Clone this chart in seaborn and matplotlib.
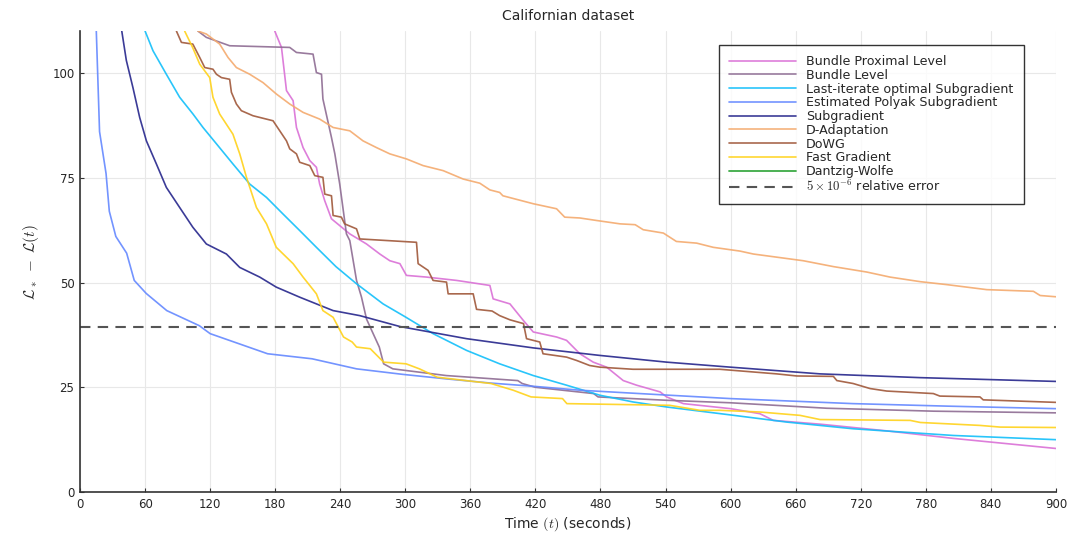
"""
Californian dataset : écart à l'optimum L* - L(t) en fonction du temps
pour plusieurs méthodes (bundle, sous-gradient, D-Adaptation, ...).
"""

import pandas as pd
import matplotlib
matplotlib.use("Agg")
import matplotlib.pyplot as plt
import seaborn as sns

# Données (temps en secondes, écart)
bpl_t = [179.6, 185.8, 190.4, 196.5, 199.6, 205.7, 211.9, 218, 221, 225.7, 231.9, 248.8, 264.2, 276.5, 285.7,
         295, 301, 319.5, 347.3, 378, 381, 396.5, 409, 418, 439.5, 448.7, 461, 473.3, 485.7, 501, 513.3, 535,
         541, 556.4, 600, 627, 639.4, 682.5, 744, 805.5, 900]
bpl_y = [110, 106.1, 95.8, 93.4, 87.0, 82.2, 79.1, 77.5, 73.5, 69.5, 65.2, 61.6, 59.2, 56.8, 55.2,
         54.5, 51.7, 51.3, 50.5, 49.3, 46.1, 44.9, 40.9, 38.2, 37.0, 36.2, 33.0, 31.0, 29.8, 26.6, 25.5, 23.9,
         22.7, 21.1, 19.9, 18.7, 17.1, 16.2, 14.6, 12.8, 10.4]

bl_t = [108.8, 116.5, 138, 193.4, 199.6, 214.9, 218, 222.7, 224, 231.9, 235, 239.5, 245.7, 248.8, 255, 259.6,
        264.2, 267.7, 276, 280, 288.5, 337.7, 403.7, 407.8, 420, 473.7, 477.8, 541, 600, 688.7, 787, 900]
bl_y = [110, 108.5, 106.5, 106.1, 104.9, 104.5, 100.1, 99.7, 93.8, 84.6, 80.7, 73.5, 61.6, 60.0, 50.5, 46.5,
        41.3, 39.3, 34.6, 30.6, 29.4, 27.8, 26.6, 25.9, 25.0, 23.5, 22.7, 21.9, 21.3, 20.0, 19.3, 18.9]

last_t = [60, 67.3, 79.6, 91.9, 104.2, 113.4, 125.8, 141, 156.5, 172, 187, 202.6, 218, 236, 255, 279.5, 300,
          325.6, 356.5, 387, 418, 448.7, 479.5, 510, 541, 600, 651.7, 713, 805.5, 900]
last_y = [110, 105.3, 99.7, 94.2, 90.2, 87.0, 83.1, 78.3, 73.5, 70.3, 66.4, 62.4, 58.4, 53.8, 49.7, 44.9, 41.8,
          37.8, 33.8, 30.6, 27.8, 25.5, 23.1, 21.5, 20.3, 18.4, 16.7, 15.1, 13.5, 12.5]

polyak_t = [15, 18, 24, 27, 33, 43, 50, 61, 80, 110, 120, 173, 214, 255, 297, 338, 379, 420, 461, 530, 600,
            713, 800, 900]
polyak_y = [110, 86, 76, 67, 61, 57, 50.5, 47.4, 43.3, 39.7, 37.8, 33.0, 31.8, 29.4, 28.1, 27.0, 26.0, 25.2,
            24.3, 23.3, 22.3, 21.1, 20.5, 19.9]

subg_t = [38.5, 42.7, 48.8, 55, 61.2, 70.4, 79.6, 91.9, 104, 116.5, 135, 147.3, 165.7, 181, 202.6, 218, 233.4,
          258, 295, 356.5, 418, 479.5, 541, 600, 682.5, 775, 900]
subg_y = [110, 103, 96.5, 89.4, 83.8, 78.3, 72.7, 67.9, 63.2, 59.2, 56.8, 53.6, 51.3, 48.9, 46.5, 44.9, 43.3,
          42.1, 39.5, 36.6, 34.4, 32.6, 31.0, 29.8, 28.2, 27.3, 26.4]

dadapt_t = [108.8, 116.5, 128.8, 136.5, 144.2, 156.5, 168.8, 181, 193.4, 205.7, 221, 233.4, 248.8, 261, 273.4,
            285.7, 301, 316.4, 334.9, 353.3, 368.7, 378, 387, 390, 418, 439.5, 447, 461, 476.5, 498, 512,
            519.4, 538, 550, 568.7, 584, 608.7, 621, 667, 694.8, 725.6, 747, 775, 799.4, 836.3, 879.3, 885.5, 900]
dadapt_y = [110, 109.3, 106.9, 103.7, 101.3, 99.7, 97.7, 95.0, 92.6, 90.6, 89.0, 87.0, 86.2, 83.8, 82.2,
            80.7, 79.5, 77.9, 76.7, 74.7, 73.7, 72.1, 71.5, 70.7, 68.8, 67.6, 65.6, 65.4, 64.8, 64.0, 63.8,
            62.6, 61.8, 59.8, 59.4, 58.4, 57.5, 56.8, 55.2, 53.8, 52.5, 51.3, 50.2, 49.5, 48.3, 47.9, 46.9, 46.6]

dowg_t = [88.9, 93.5, 104, 110.4, 115, 122.6, 125.8, 130.4, 138, 139.6, 144.2, 148.8, 159.5, 178, 184.2,
          190.4, 193.4, 199.6, 202.6, 211.9, 216.5, 224, 225.7, 231.9, 233.4, 241, 244, 255, 258, 310.3,
          311.8, 321, 325.6, 338, 339.5, 362.6, 365.7, 380, 387, 396.5, 409, 411.8, 424, 427, 448.7,
          458, 470, 479.5, 510, 590, 642.5, 661, 694.8, 698, 713, 728.6, 744, 787, 793, 830, 833, 900]
dowg_y = [110, 107.3, 106.9, 103.7, 101.3, 100.9, 99.7, 98.9, 98.5, 95.4, 92.6, 91.0, 89.8, 88.6, 86.2,
          83.8, 81.9, 80.7, 78.7, 77.9, 75.5, 75.1, 71.1, 70.7, 66.0, 65.6, 64.0, 62.8, 60.4, 59.6,
          54.5, 52.9, 50.5, 50.1, 47.3, 47.3, 43.6, 43.2, 42.1, 41.1, 40.2, 36.6, 35.8, 33.0, 32.2,
          31.4, 30.2, 29.8, 29.3, 29.3, 28.2, 27.7, 27.6, 26.6, 25.9, 24.7, 24.1, 23.5, 22.9, 22.7, 22.0, 21.4]

fast_t = [96.5, 104, 110.4, 119.6, 122.6, 128.8, 141, 147.3, 153.5, 162.7, 172, 181, 196.5, 205.7, 218, 224,
          233.4, 243, 251, 255, 267.7, 280, 300.7, 313, 329.5, 379, 399.5, 416, 445, 449, 543.7, 571.7, 590,
          627, 664, 682.5, 765.6, 775, 830, 848.6, 900]
fast_y = [110, 106, 102.1, 98.9, 94.2, 90.2, 85.4, 80.7, 75.1, 67.9, 64.0, 58.4, 54.5, 51.3, 47.3, 43.3,
          41.7, 37.0, 35.8, 34.6, 34.2, 31.0, 30.6, 29.4, 27.4, 25.9, 24.3, 22.7, 22.3, 21.1, 20.7, 19.5, 19.5,
          19.1, 18.3, 17.3, 17.1, 16.6, 15.9, 15.5, 15.4]

# Dantzig-Wolfe : hors de la zone affichée, uniquement dans la légende
dw_t = []
dw_y = []

seuil = 39.3  # 5e-6 d'erreur relative

series = [
    ("Bundle Proximal Level", bpl_t, bpl_y, "#DA70D6"),
    ("Bundle Level", bl_t, bl_y, "#8E6C93"),
    ("Last-iterate optimal Subgradient", last_t, last_y, "#12BFFA"),
    ("Estimated Polyak Subgradient", polyak_t, polyak_y, "#6488FF"),
    ("Subgradient", subg_t, subg_y, "#26268C"),
    ("D-Adaptation", dadapt_t, dadapt_y, "#F4AA6E"),
    ("DoWG", dowg_t, dowg_y, "#A0583A"),
    ("Fast Gradient", fast_t, fast_y, "#FFD21A"),
    ("Dantzig-Wolfe", dw_t, dw_y, "#3DAA45"),
]

sns.set_theme(style="white")
plt.rcParams['font.family'] = ['DejaVu Sans']
plt.rcParams['mathtext.fontset'] = 'cm'

fig = plt.figure(figsize=(10.7, 5.36), dpi=100)
ax = fig.add_axes([0.0748, 0.082, 0.912, 0.860])

for nom, t, y, couleur in series:
    if len(t) == 0:
        ax.plot(t, y, color=couleur, lw=1.3, label=nom)
        continue
    df = pd.DataFrame({"t": t, "gap": y})
    sns.lineplot(data=df, x="t", y="gap", color=couleur, lw=1.2, alpha=0.9,
                 estimator=None, sort=False, label=nom, ax=ax)

ax.axhline(seuil, color="#555555", lw=1.5, ls=(0, (5, 3.5)),
           label=r"$5\times10^{-6}$ relative error")

# Axes
ax.set_xlim(0, 900)
ax.set_ylim(0, 110)
ax.set_xticks(range(0, 901, 60))
ax.set_yticks([0, 25, 50, 75, 100])
ax.grid(True, color="#e8e8e8", lw=0.8)
for cote in ["top", "right"]:
    ax.spines[cote].set_visible(False)
for cote in ["left", "bottom"]:
    ax.spines[cote].set_color("#333333")
    ax.spines[cote].set_linewidth(1.2)
ax.tick_params(axis="both", direction="in", length=3, width=0.8, color="#333333",
               labelsize=8.5, pad=4, bottom=True, left=True)

ax.set_title("Californian dataset", fontsize=10, pad=8)
ax.set_xlabel(r"Time $(t)$ (seconds)", fontsize=10, labelpad=3)
ax.set_ylabel(r"$\mathcal{L}_*\ -\ \mathcal{L}(t)$", fontsize=11, labelpad=8)

leg = ax.legend(loc="upper right", bbox_to_anchor=(0.967, 0.97), borderaxespad=0,
                fontsize=9.1, frameon=True, fancybox=False, edgecolor="black",
                handlelength=5.3, handletextpad=0.8, labelspacing=0.06, borderpad=0.8)
leg.get_frame().set_linewidth(1.0)

fig.savefig("out.png", dpi=100)
